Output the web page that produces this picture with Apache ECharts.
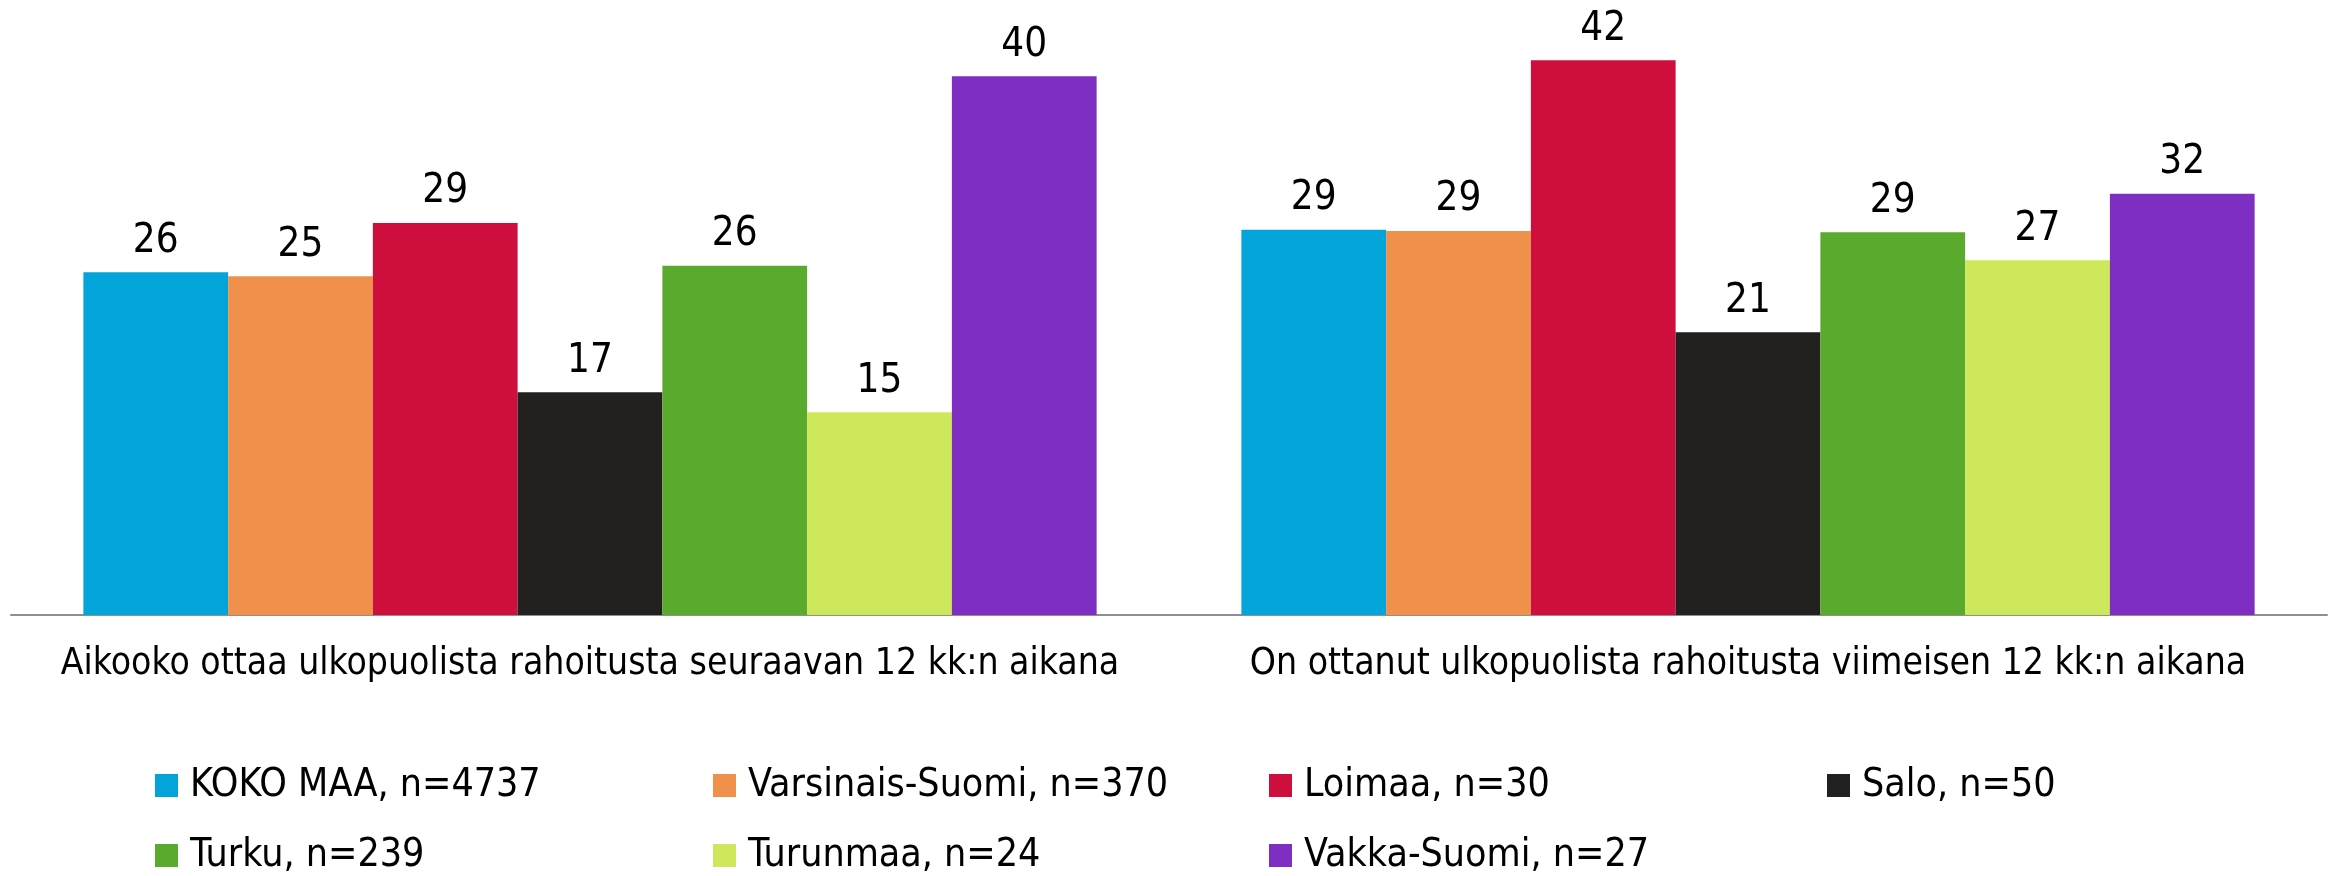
<!DOCTYPE html>
<html>
<head>
<meta charset="utf-8">
<script src="https://cdn.jsdelivr.net/npm/echarts@6/dist/echarts.min.js"></script>
<style>
html,body{margin:0;padding:0;background:#fff;}
#chart{width:2336px;height:876px;}
</style>
</head>
<body>
<div id="chart"></div>
<script>
const categories = [
  "Aikooko ottaa ulkopuolista rahoitusta seuraavan 12 kk:n aikana",
  "On ottanut ulkopuolista rahoitusta viimeisen 12 kk:n aikana"
];
const seriesNames = [
  "KOKO MAA, n=4737",
  "Varsinais-Suomi, n=370",
  "Loimaa, n=30",
  "Salo, n=50",
  "Turku, n=239",
  "Turunmaa, n=24",
  "Vakka-Suomi, n=27"
];
const kokoMaa = [25.7, 28.9];
const varsinaisSuomi = [25.4, 28.8];
const loimaa = [29.4, 41.6];
const salo = [16.7, 21.2];
const turku = [26.2, 28.7];
const turunmaa = [15.2, 26.6];
const vakkaSuomi = [40.4, 31.6];
const seriesValues = [kokoMaa, varsinaisSuomi, loimaa, salo, turku, turunmaa, vakkaSuomi];

const colors = ["#02A4DA", "#F0914B", "#CE0F3D", "#222120", "#5AAA2D", "#CDE85A", "#7E2FC2"];
const FONT = "'DejaVu Sans Condensed', 'DejaVu Sans', sans-serif";

const chart = echarts.init(document.getElementById('chart'));

const legendPos = [
  [155, 766], [713, 766], [1269, 766], [1827, 766],
  [155, 836], [713, 836], [1269, 836]
];

const option = {
  animation: false,
  color: colors,
  grid: {left: 11, right: 9, top: 15, bottom: 261, containLabel: false},
  xAxis: {
    type: 'category',
    data: categories,
    axisLine: {show: true, lineStyle: {color: '#8F8F8F', width: 2}},
    axisTick: {show: false},
    axisLabel: {fontFamily: FONT, fontSize: 37, color: '#000', margin: 31, interval: 0}
  },
  yAxis: {
    type: 'value', min: 0, max: 45,
    show: false,
    splitLine: {show: false}
  },
  legend: seriesNames.map((n, i) => ({
    data: [n],
    left: legendPos[i][0],
    top: legendPos[i][1],
    padding: 0,
    itemWidth: 23,
    itemHeight: 23,
    icon: 'rect',
    selectedMode: false,
    textStyle: {fontFamily: FONT, fontSize: 39, color: '#000', padding: [0, 0, 0, 7]}
  })),
  series: seriesNames.map((n, i) => ({
    name: n,
    type: 'bar',
    data: seriesValues[i],
    barGap: 0,
    barCategoryGap: '12.5%',
    itemStyle: {color: colors[i]},
    label: {
      show: true,
      position: 'top',
      distance: 11,
      fontFamily: FONT,
      fontSize: 40,
      color: '#000',
      formatter: p => Math.round(p.value)
    }
  }))
};
chart.setOption(option);
</script>
</body>
</html>
